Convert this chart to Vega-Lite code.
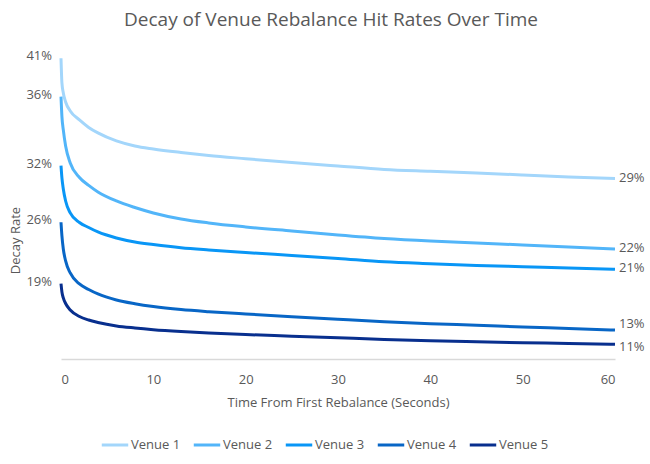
{
  "$schema": "https://vega.github.io/schema/vega-lite/v6.json",
  "autosize": "none",
  "width": 554,
  "height": 311,
  "padding": {"left": 61, "top": 48, "right": 35, "bottom": 105},
  "background": "white",
  "title": {
    "text": "Decay of Venue Rebalance Hit Rates Over Time",
    "fontSize": 19,
    "fontWeight": 400,
    "color": "#595959",
    "anchor": "middle",
    "frame": "group",
    "dx": -7,
    "offset": 18
  },
  "datasets": {
    "curves": [
      {"venue":"Venue 1","t":0,"rate":40.95},{"venue":"Venue 1","t":0.1,"rate":38.41},{"venue":"Venue 1","t":0.25,"rate":37.38},{"venue":"Venue 1","t":0.5,"rate":36.45},{"venue":"Venue 1","t":1,"rate":35.52},{"venue":"Venue 1","t":2,"rate":34.6},{"venue":"Venue 1","t":3,"rate":33.83},{"venue":"Venue 1","t":4,"rate":33.26},{"venue":"Venue 1","t":6,"rate":32.44},{"venue":"Venue 1","t":8,"rate":31.92},{"venue":"Venue 1","t":10,"rate":31.61},{"venue":"Venue 1","t":13,"rate":31.25},{"venue":"Venue 1","t":16,"rate":30.94},{"venue":"Venue 1","t":20,"rate":30.61},{"venue":"Venue 1","t":25,"rate":30.22},{"venue":"Venue 1","t":30,"rate":29.86},{"venue":"Venue 1","t":35,"rate":29.51},{"venue":"Venue 1","t":40,"rate":29.32},{"venue":"Venue 1","t":45,"rate":29.14},{"venue":"Venue 1","t":50,"rate":28.94},{"venue":"Venue 1","t":55,"rate":28.73},{"venue":"Venue 1","t":60,"rate":28.56},
      {"venue":"Venue 2","t":0,"rate":37.0},{"venue":"Venue 2","t":0.1,"rate":34.94},{"venue":"Venue 2","t":0.25,"rate":33.57},{"venue":"Venue 2","t":0.5,"rate":31.92},{"venue":"Venue 2","t":1,"rate":30.17},{"venue":"Venue 2","t":2,"rate":28.68},{"venue":"Venue 2","t":3,"rate":27.86},{"venue":"Venue 2","t":4,"rate":27.19},{"venue":"Venue 2","t":6,"rate":26.26},{"venue":"Venue 2","t":8,"rate":25.59},{"venue":"Venue 2","t":10,"rate":25.03},{"venue":"Venue 2","t":13,"rate":24.41},{"venue":"Venue 2","t":16,"rate":24.0},{"venue":"Venue 2","t":20,"rate":23.59},{"venue":"Venue 2","t":25,"rate":23.17},{"venue":"Venue 2","t":30,"rate":22.76},{"venue":"Venue 2","t":35,"rate":22.4},{"venue":"Venue 2","t":40,"rate":22.14},{"venue":"Venue 2","t":45,"rate":21.94},{"venue":"Venue 2","t":50,"rate":21.73},{"venue":"Venue 2","t":55,"rate":21.53},{"venue":"Venue 2","t":60,"rate":21.32},
      {"venue":"Venue 3","t":0,"rate":29.89},{"venue":"Venue 3","t":0.1,"rate":28.63},{"venue":"Venue 3","t":0.25,"rate":27.5},{"venue":"Venue 3","t":0.5,"rate":26.26},{"venue":"Venue 3","t":1,"rate":25.03},{"venue":"Venue 3","t":2,"rate":24.05},{"venue":"Venue 3","t":3,"rate":23.53},{"venue":"Venue 3","t":4,"rate":23.07},{"venue":"Venue 3","t":6,"rate":22.45},{"venue":"Venue 3","t":8,"rate":22.04},{"venue":"Venue 3","t":10,"rate":21.78},{"venue":"Venue 3","t":13,"rate":21.45},{"venue":"Venue 3","t":16,"rate":21.22},{"venue":"Venue 3","t":20,"rate":20.96},{"venue":"Venue 3","t":25,"rate":20.65},{"venue":"Venue 3","t":30,"rate":20.34},{"venue":"Venue 3","t":35,"rate":20.0},{"venue":"Venue 3","t":40,"rate":19.8},{"venue":"Venue 3","t":45,"rate":19.63},{"venue":"Venue 3","t":50,"rate":19.5},{"venue":"Venue 3","t":55,"rate":19.37},{"venue":"Venue 3","t":60,"rate":19.23},
      {"venue":"Venue 4","t":0,"rate":24.07},{"venue":"Venue 4","t":0.1,"rate":22.66},{"venue":"Venue 4","t":0.25,"rate":21.32},{"venue":"Venue 4","t":0.5,"rate":20.09},{"venue":"Venue 4","t":1,"rate":18.85},{"venue":"Venue 4","t":2,"rate":17.72},{"venue":"Venue 4","t":3,"rate":17.15},{"venue":"Venue 4","t":4,"rate":16.69},{"venue":"Venue 4","t":6,"rate":16.07},{"venue":"Venue 4","t":8,"rate":15.69},{"venue":"Venue 4","t":10,"rate":15.4},{"venue":"Venue 4","t":13,"rate":15.09},{"venue":"Venue 4","t":16,"rate":14.87},{"venue":"Venue 4","t":20,"rate":14.63},{"venue":"Venue 4","t":25,"rate":14.35},{"venue":"Venue 4","t":30,"rate":14.09},{"venue":"Venue 4","t":35,"rate":13.84},{"venue":"Venue 4","t":40,"rate":13.63},{"venue":"Venue 4","t":45,"rate":13.47},{"venue":"Venue 4","t":50,"rate":13.29},{"venue":"Venue 4","t":55,"rate":13.14},{"venue":"Venue 4","t":60,"rate":12.98},
      {"venue":"Venue 5","t":0,"rate":17.75},{"venue":"Venue 5","t":0.1,"rate":16.9},{"venue":"Venue 5","t":0.25,"rate":16.28},{"venue":"Venue 5","t":0.5,"rate":15.71},{"venue":"Venue 5","t":1,"rate":15.04},{"venue":"Venue 5","t":2,"rate":14.37},{"venue":"Venue 5","t":3,"rate":14.01},{"venue":"Venue 5","t":4,"rate":13.76},{"venue":"Venue 5","t":6,"rate":13.4},{"venue":"Venue 5","t":8,"rate":13.19},{"venue":"Venue 5","t":10,"rate":13.02},{"venue":"Venue 5","t":13,"rate":12.83},{"venue":"Venue 5","t":16,"rate":12.68},{"venue":"Venue 5","t":20,"rate":12.52},{"venue":"Venue 5","t":25,"rate":12.35},{"venue":"Venue 5","t":30,"rate":12.18},{"venue":"Venue 5","t":35,"rate":12.01},{"venue":"Venue 5","t":40,"rate":11.87},{"venue":"Venue 5","t":45,"rate":11.77},{"venue":"Venue 5","t":50,"rate":11.68},{"venue":"Venue 5","t":55,"rate":11.6},{"venue":"Venue 5","t":60,"rate":11.51}
    ],
    "labels": [
      {"venue":"Venue 1","side":"start","t":0,"rate":40.95,"label":"41%"},
      {"venue":"Venue 2","side":"start","t":0,"rate":37.0,"label":"36%"},
      {"venue":"Venue 3","side":"start","t":0,"rate":29.89,"label":"32%"},
      {"venue":"Venue 4","side":"start","t":0,"rate":24.07,"label":"26%"},
      {"venue":"Venue 5","side":"start","t":0,"rate":17.75,"label":"19%"},
      {"venue":"Venue 1","side":"end","t":60,"rate":28.56,"label":"29%"},
      {"venue":"Venue 2","side":"end","t":60,"rate":21.32,"label":"22%"},
      {"venue":"Venue 3","side":"end","t":60,"rate":19.23,"label":"21%"},
      {"venue":"Venue 4","side":"end","t":60,"rate":12.98,"label":"13%"},
      {"venue":"Venue 5","side":"end","t":60,"rate":11.51,"label":"11%"}
    ]
  },
  "layer": [
    {
      "data": {"name": "curves"},
      "mark": {"type": "line", "strokeWidth": 3, "interpolate": "monotone", "strokeCap": "butt"},
      "encoding": {
        "x": {
          "field": "t", "type": "quantitative",
          "scale": {"domain": [0, 60], "nice": false},
          "axis": {
            "title": "Time From First Rebalance (Seconds)",
            "values": [0, 10, 20, 30, 40, 50, 60],
            "grid": false, "ticks": false,
            "domainColor": "#d9d9d9", "domainWidth": 1.5,
            "labelFontSize": 13, "labelColor": "#595959", "labelPadding": 14,
            "titleFontSize": 13, "titleFontWeight": 400, "titleColor": "#595959", "titlePadding": 10
          }
        },
        "y": {
          "field": "rate", "type": "quantitative",
          "scale": {"domain": [10, 42], "nice": false, "zero": false},
          "axis": {
            "title": "Decay Rate",
            "labels": false, "ticks": false, "domain": false, "grid": false,
            "titleFontSize": 13, "titleFontWeight": 400, "titleColor": "#595959",
            "titlePadding": 39, "titleY": 192
          }
        },
        "color": {
          "field": "venue", "type": "nominal",
          "scale": {
            "domain": ["Venue 1", "Venue 2", "Venue 3", "Venue 4", "Venue 5"],
            "range": ["#a3d6fb", "#52b5f9", "#0996f6", "#0866c6", "#082f8e"]
          },
          "legend": {
            "title": null,
            "orient": "none",
            "legendX": 39,
            "legendY": 382,
            "direction": "horizontal",
            "columns": 5,
            "symbolType": "stroke",
            "symbolSize": 700,
            "symbolStrokeWidth": 3,
            "labelFontSize": 13,
            "labelColor": "#595959",
            "labelOffset": 1,
            "columnPadding": 6
          }
        }
      }
    },
    {
      "data": {"name": "labels"},
      "transform": [{"filter": "datum.side === 'start'"}],
      "mark": {"type": "text", "align": "right", "baseline": "middle", "dx": -9, "dy": -2, "fontSize": 13, "color": "#595959"},
      "encoding": {
        "x": {"field": "t", "type": "quantitative"},
        "y": {"field": "rate", "type": "quantitative"},
        "text": {"field": "label"}
      }
    },
    {
      "data": {"name": "labels"},
      "transform": [{"filter": "datum.side === 'end' && datum.venue !== 'Venue 4' && datum.venue !== 'Venue 5'"}],
      "mark": {"type": "text", "align": "left", "baseline": "middle", "dx": 4, "dy": -1, "fontSize": 13, "color": "#595959"},
      "encoding": {
        "x": {"field": "t", "type": "quantitative"},
        "y": {"field": "rate", "type": "quantitative"},
        "text": {"field": "label"}
      }
    },
    {
      "data": {"name": "labels"},
      "transform": [{"filter": "datum.side === 'end' && datum.venue === 'Venue 4'"}],
      "mark": {"type": "text", "align": "left", "baseline": "middle", "dx": 4, "dy": -6, "fontSize": 13, "color": "#595959"},
      "encoding": {
        "x": {"field": "t", "type": "quantitative"},
        "y": {"field": "rate", "type": "quantitative"},
        "text": {"field": "label"}
      }
    },
    {
      "data": {"name": "labels"},
      "transform": [{"filter": "datum.side === 'end' && datum.venue === 'Venue 5'"}],
      "mark": {"type": "text", "align": "left", "baseline": "middle", "dx": 4, "dy": 3, "fontSize": 13, "color": "#595959"},
      "encoding": {
        "x": {"field": "t", "type": "quantitative"},
        "y": {"field": "rate", "type": "quantitative"},
        "text": {"field": "label"}
      }
    }
  ],
  "config": {
    "font": "Open Sans",
    "view": {"stroke": null}
  }
}
